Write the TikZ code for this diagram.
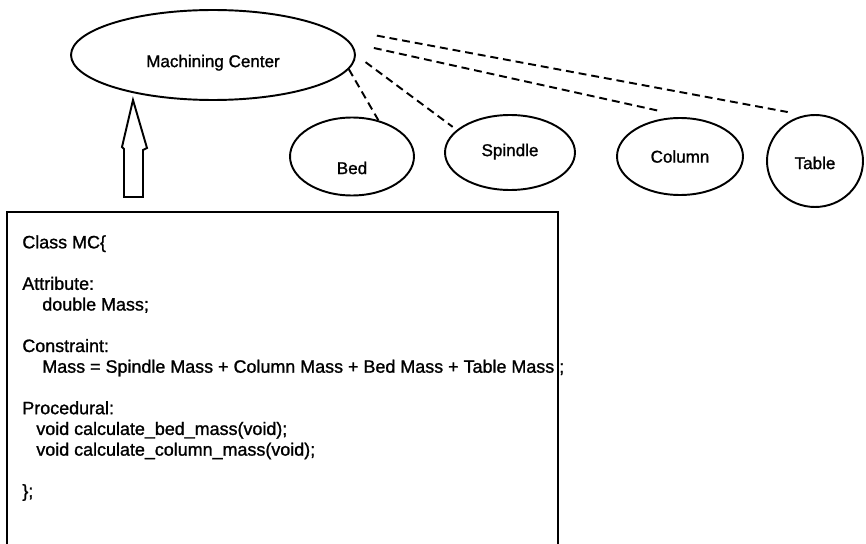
\documentclass[tikz,border=0pt]{standalone}
\usepackage{fontspec}
\setmainfont{Liberation Sans}[FakeBold=1.2]
\usetikzlibrary{shapes.geometric}

\tikzset{
  part/.style={ellipse,draw,line width=1.1pt,inner sep=0pt,text depth=0pt,
    font=\fontsize{9.7}{11.8}\selectfont},
  link/.style={line width=1.1pt,dash pattern=on 4.5pt off 2.8pt},
  code/.style={inner sep=0pt,align=left,font=\fontsize{10.2}{11.8}\selectfont},
}

\begin{document}
\begin{tikzpicture}[x=0.02cm,y=-0.02cm]
  \useasboundingbox (0,0) rectangle (866,544);

  % the machine and its parts
  \node[part,minimum width=5.68cm,minimum height=1.8cm,text height=13.8pt] (mc) at (213,55) {Machining Center};
  \node[part,minimum width=2.48cm,minimum height=1.56cm,text height=20pt] (bed) at (352,156.5) {Bed};
  \node[part,minimum width=2.6cm,minimum height=1.5cm,text height=4.1pt] (spindle) at (510,152.5) {Spindle};
  \node[part,minimum width=2.52cm,minimum height=1.54cm,text height=6.95pt] (column) at (680,156.5) {Column};
  \node[part,minimum width=1.92cm,minimum height=1.84cm,text height=9.2pt] (table) at (815,161) {Table};

  \draw[link,shorten <=1.1cm,shorten >=0.34cm] (mc.15) -- (table.103);
  \draw[link,shorten <=0.47cm,shorten >=0.59cm] (mc.5) -- (column.77);
  \draw[link,shorten <=0.24cm,shorten >=0.1cm] (mc.east) -- (spindle.157);
  \draw[link] (mc.-6) -- (bed.54);

  % hollow arrow up to the machine
  \draw[line width=1.1pt] (133,100) -- (147,148) -- (143,150) -- (143,197)
    -- (124,197) -- (124,149) -- (122,147) -- cycle;

  % class box
  \draw[line width=1.1pt] (7,544) |- (558,212) -- (558,544);
  \node[code,anchor=north west] (mcclass) at (22,235) {Class MC\{\\[11.8pt]
    Attribute:\\
    \hspace*{0.4cm}double Mass;\\[11.8pt]
    Constraint:\\
    \hspace*{0.4cm}Mass = Spindle Mass + Column Mass + Bed Mass + Table Mass ;\\[11.8pt]
    Procedural:\\
    \hspace*{0.28cm}void calculate\_bed\_mass(void);\\
    \hspace*{0.28cm}void calculate\_column\_mass(void);\\[11.8pt]
    \};};
\end{tikzpicture}
\end{document}
